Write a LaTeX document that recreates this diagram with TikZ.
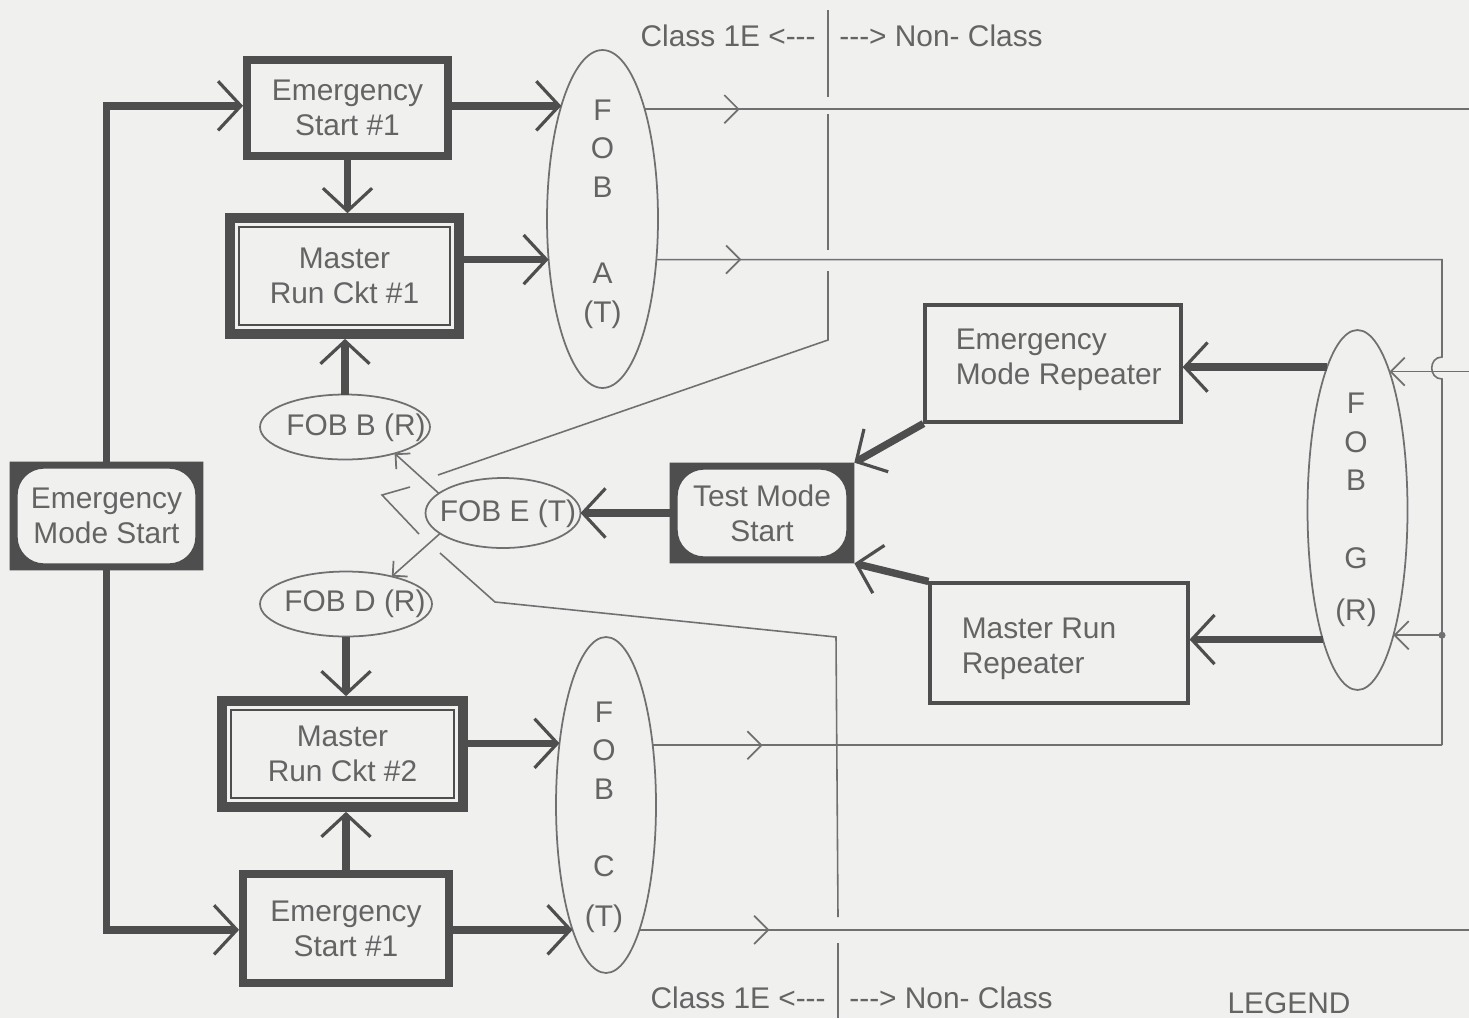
\documentclass[tikz,border=0pt]{standalone}
\usepackage{fontspec}
\setmainfont{Liberation Sans}
\usetikzlibrary{positioning,arrows.meta,calc,shapes.geometric,decorations.markings}

\definecolor{paper}{RGB}{240,240,239}
\definecolor{ink}{RGB}{78,78,78}
\definecolor{wire}{RGB}{112,112,112}
\definecolor{txt}{RGB}{100,100,100}

\newcommand{\lblfont}{\fontsize{17}{20}\selectfont}
\newcommand{\fobfont}{\fontsize{17}{22}\selectfont}

\tikzset{
  bigtip/.tip={Straight Barb[length=13pt,width=28pt,line width=1.8pt]},
  smalltip/.tip={Straight Barb[length=8pt,width=16pt,line width=1pt]},
  tinytip/.tip={Straight Barb[length=6pt,width=12pt,line width=1pt]},
  fat/.style={draw=ink,line width=4.2pt,-bigtip},
  sig/.style={wire,line width=0.9pt},
  midtip/.style={postaction={decorate},decoration={markings,mark=at position #1 with {\arrow{smalltip}}}},
  bound/.style={wire,line width=0.9pt},
  blk/.style={draw=ink,line width=4.5pt,fill=paper},
  mrun/.style={draw=ink,line width=5.5pt,fill=paper},
  rep/.style={draw=ink,line width=1.8pt,fill=paper},
  startbox/.style={inner sep=0pt},
  fob/.style={ellipse,draw=wire,line width=1pt,fill=paper,inner sep=0pt,outer sep=0pt},
  fobtxt/.style={font=\fobfont,inner sep=0pt},
  lbl/.style={inner sep=0pt}
}

\begin{document}
\begin{tikzpicture}[x=0.02cm,y=-0.02cm,every node/.style={text=txt,font=\lblfont,align=center}]
\fill[paper] (0,0) rectangle (1469,1018);
\useasboundingbox (0,0) rectangle (1469,1018);

% left column
\node[blk,minimum width=4.02cm,minimum height=1.92cm] (es1) at (347.5,108) {Emergency\\Start \#1};
\node[mrun,minimum width=4.58cm,minimum height=2.32cm] (mrc1) at (344.5,276) {Master\\Run Ckt \#1};
\node[mrun,minimum width=4.82cm,minimum height=2.12cm] (mrc2) at (342.5,754) {Master\\Run Ckt \#2};
\node[blk,minimum width=4.12cm,minimum height=2.18cm] (es2) at (346,928.5) {Emergency\\Start \#1};
\foreach \n in {mrc1,mrc2}
  \draw[ink,line width=1pt] ($(\n.north west)+(14,14)$) rectangle ($(\n.south east)+(-14,-14)$);

\node[startbox,minimum width=3.86cm,minimum height=2.16cm] (ems) at (106.5,516) {Emergency\\Mode Start};
\node[startbox,minimum width=3.68cm,minimum height=2cm] (tms) at (762,513) {Test Mode\\Start};
\foreach \n in {ems,tms}
  \fill[ink,even odd rule] (\n.north west) rectangle (\n.south east)
    [rounded corners=15pt] ($(\n.north west)+(8,7)$) rectangle ($(\n.south east)+(-8,-7)$);

% repeaters
\node[rep,minimum width=5.12cm,minimum height=2.34cm] (emr) at (1053,363.5) {};
\node[lbl,anchor=west,align=left] (emrtxt) at ($(emr.west)+(32,-4)$) {Emergency\\Mode Repeater};
\node[rep,minimum width=5.16cm,minimum height=2.4cm] (mrr) at (1059,643) {};
\node[lbl,anchor=west,align=left] (mrrtxt) at ($(mrr.west)+(33,6)$) {Master Run\\Repeater};

% FOBs
\node[fob,minimum width=2.22cm,minimum height=6.76cm] (fobA) at (602.5,219) {};
\node[fobtxt] (fobAtxt) at (602.5,214) {F\\O\\B\\[27pt]A\\(T)};
\node[fob,minimum width=2cm,minimum height=6.72cm] (fobC) at (606,805) {};
\node[fobtxt] (fobCtxt) at (604,817) {F\\O\\B\\[22pt]C\\[6pt](T)};
\node[fob,minimum width=2cm,minimum height=7.2cm] (fobG) at (1357.5,510) {};
\node[fobtxt] (fobGtxt) at (1356,510) {F\\O\\B\\[22pt]G\\[8pt](R)};
\node[fob,minimum width=3.4cm,minimum height=1.3cm] (fobB) at (345,427) {};
\node[lbl] (fobBtxt) at (356,428) {FOB B (R)};
\node[fob,minimum width=3.1cm,minimum height=1.4cm] (fobE) at (503,513) {};
\node[lbl] (fobEtxt) at (508,514) {FOB E (T)};
\node[fob,minimum width=3.44cm,minimum height=1.3cm] (fobD) at (346,604) {};
\node[lbl] (fobDtxt) at (355,604) {FOB D (R)};

% thick signal paths
\draw[fat] (ems.north) |- (es1.west |- fobA.110.1);
\draw[fat] (ems.south) |- (es2.west |- fobC.-105);
\draw[fat] (es1.east |- fobA.110.1) -- (fobA.110.1);
\draw[fat] (mrc1.east |- fobA.217.3) -- (fobA.217.3);
\draw[fat] (mrc2.east |- fobC.127.9) -- (fobC.127.9);
\draw[fat] (es2.east |- fobC.-105) -- (fobC.-105);
\draw[fat] (es1.south) -- (es1.south |- mrc1.north);
\draw[fat] (fobB.north) -- (fobB.north |- mrc1.south);
\draw[fat] (fobD.south) -- (fobD.south |- mrc2.north);
\draw[fat] (es2.north) -- (es2.north |- mrc2.south);
\draw[fat] (tms.west) -- (fobE.east);
\draw[fat] (emr.south west) -- (tms.north east);
\draw[fat] (mrr.north west) -- (tms.south east);
\draw[fat] (fobG.102.2) -- (fobG.102.2 -| emr.east);
\draw[fat] (fobG.-105.4) -- (fobG.-105.4 -| mrr.east);

% thin wiring
\coordinate (edgeA) at (1469,106);
\coordinate (edgeG) at (1469,368);
\coordinate (edgeC) at (1469,930);
\coordinate (hop) at (1442,368);
\coordinate (tapG) at (hop |- fobG.-74.6);
\draw[sig,midtip=1.9cm] (fobA.69.9) -- (fobA.69.9 -| edgeA);
\draw[sig,midtip=1.7cm] (fobA.-37.3) -| ($(hop)+(0,-11)$) to[out=180,in=180,looseness=1.6] ($(hop)+(0,11)$) -- (hop |- fobC.52.1);
\draw[sig,midtip=2.2cm] (fobC.52.1) -- (fobC.52.1 -| hop);
\draw[sig,midtip=2.6cm] (fobC.-75) -- (fobC.-75 -| edgeC);
\draw[sig,-smalltip] (fobG.77.8 -| edgeG) -- (fobG.77.8);
\fill[wire] (tapG) circle (2pt);
\draw[sig,-smalltip] (tapG) -- (fobG.-74.6);
\draw[sig,-tinytip] (fobE.163) -- (fobB.-28);
\draw[sig,-tinytip] (fobE.198) -- (fobD.31);

% class boundary
\draw[bound] (828,10) -- (828,97);
\draw[bound] (828,114) -- (828,250);
\draw[bound] (828,271) -- (828,340) -- (438,475);
\draw[bound] (410,487) -- (382,495) -- (419,534);
\draw[bound] (440,553) -- (495,602) -- (836,637) -- (838,917);
\draw[bound] (838,943) -- (838,1018);

\node[lbl,anchor=east] (clsTL) at (816,36) {Class 1E <{-}{-}{-}};
\node[lbl,anchor=west] (clsTR) at (839,36) {{-}{-}{-}> Non- Class};
\node[lbl,anchor=east] (clsBL) at (826,998) {Class 1E <{-}{-}{-}};
\node[lbl,anchor=west] (clsBR) at (849,998) {{-}{-}{-}> Non- Class};
\node[lbl] (legend) at (1289,1003) {LEGEND};
\end{tikzpicture}
\end{document}
